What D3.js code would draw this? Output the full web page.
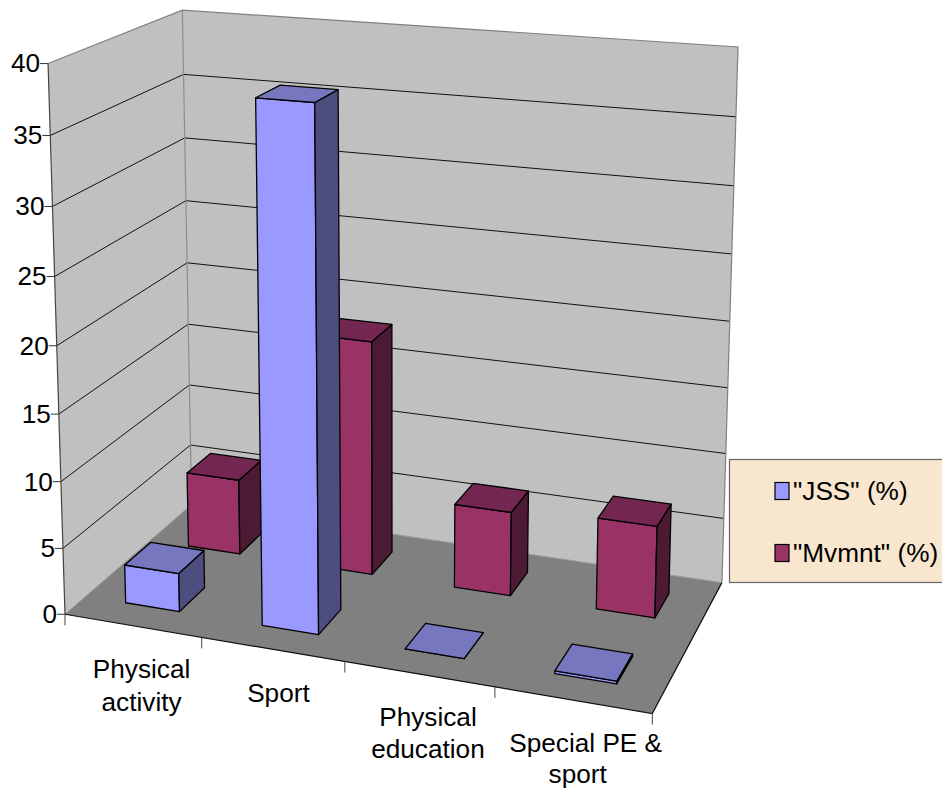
<!DOCTYPE html>
<html>
<head>
<meta charset="utf-8">
<script src="https://cdn.jsdelivr.net/npm/d3@7"></script>
<style>
  html, body { margin: 0; padding: 0; background: #fff; overflow: hidden; }
  text { font-family: "Liberation Sans", Arial, sans-serif; fill: #000; }
</style>
</head>
<body>
<svg id="chart" width="942" height="791"></svg>
<script>
// Percentages by category
const categories = ["Physical activity", "Sport", "Physical education", "Special PE & sport"];
const seriesNames = ["\"JSS\" (%)", "\"Mvmnt\" (%)"];
const jssValues = [2.9, 38, 0, 0.2];
const mvmntValues = [5.9, 18, 6.4, 6.9];
const yTicks = [0, 5, 10, 15, 20, 25, 30, 35, 40];
const categoryLabelLines = [["Physical", "activity"], ["Sport"], ["Physical", "education"], ["Special PE &", "sport"]];

const FONT_SIZE = 26.2;
const wallFill = "#c0c0c0", floorFill = "#808080";
const frontFill = ["#9999ff", "#993366"];
const topFill = ["#7777c0", "#732650"];
const sideFill = ["#4d4d80", "#4d1a33"];

// Scene axes, each normalised to 0..1
const xBand = d3.scaleBand().domain(categories).range([0, 1]).paddingInner(0.6).paddingOuter(0.3);
const depthBand = d3.scaleBand().domain(seriesNames).range([0, 1]).paddingInner(0.6).paddingOuter(0.3);
const height = d3.scaleLinear().domain([0, 40]).range([0, 1]);

// Camera calibration: box positions (across, depth, up) paired with screen anchors.
const anchors = [
  [0, 0, 0, 65.5, 614], [0, 0, 1, 47.5, 64], [0, 0, 0.5, 56.5, 345],
  [1, 0, 0, 652, 714], [0.25, 0, 0, 202, 637], [0.5, 0, 0, 345, 662], [0.75, 0, 0, 495, 687],
  [0, 1, 0, 191, 505], [0, 1, 1, 183, 10], [0, 1, 0.5, 187, 263],
  [1, 1, 0, 722, 582], [1, 1, 1, 738, 47]
];

function solveLinear(A, b) {
  const n = b.length, M = A.map((row, i) => [...row, b[i]]);
  for (let c = 0; c < n; c++) {
    let p = c;
    for (let r = c + 1; r < n; r++) if (Math.abs(M[r][c]) > Math.abs(M[p][c])) p = r;
    [M[c], M[p]] = [M[p], M[c]];
    for (let r = 0; r < n; r++) {
      if (r === c) continue;
      const f = M[r][c] / M[c][c];
      for (let k = c; k <= n; k++) M[r][k] -= f * M[c][k];
    }
  }
  return M.map((row, i) => row[n] / row[i]);
}

// Least-squares fit of the 3x4 projection matrix
function fitCamera(points) {
  const rows = [], rhs = [];
  points.forEach(([u, v, w, sx, sy]) => {
    const X = sx / 1000, Y = sy / 1000;
    rows.push([u, v, w, 1, 0, 0, 0, 0, -X * u, -X * v, -X * w]); rhs.push(X);
    rows.push([0, 0, 0, 0, u, v, w, 1, -Y * u, -Y * v, -Y * w]); rhs.push(Y);
  });
  const n = 11;
  const AtA = d3.range(n).map(i => d3.range(n).map(j => d3.sum(rows, r => r[i] * r[j])));
  const Atb = d3.range(n).map(i => d3.sum(rows, (r, k) => r[i] * rhs[k]));
  return solveLinear(AtA, Atb);
}

const cam = fitCamera(anchors);
function project(u, v, w) {
  const d = cam[8] * u + cam[9] * v + cam[10] * w + 1;
  return [
    1000 * (cam[0] * u + cam[1] * v + cam[2] * w + cam[3]) / d,
    1000 * (cam[4] * u + cam[5] * v + cam[6] * w + cam[7]) / d
  ];
}

const svg = d3.select("#chart");
const polyline = d3.line();
const closed = pts => polyline(pts) + "Z";

// Floor and walls
const scene = svg.append("g");
const box = [[0, 0], [1, 0], [1, 1], [0, 1]];
scene.append("path")
  .attr("d", closed([project(0, 0, 0), project(0, 0, 1), project(0, 1, 1), project(0, 1, 0)]))
  .attr("fill", wallFill);
scene.append("path")
  .attr("d", closed([project(0, 1, 0), project(0, 1, 1), project(1, 1, 1), project(1, 1, 0)]))
  .attr("fill", wallFill);
scene.append("path")
  .attr("d", closed(box.map(([u, v]) => project(u, v, 0))))
  .attr("fill", floorFill);

// Gridlines run across the side wall and the back wall
scene.selectAll("path.grid").data(yTicks.filter(t => t > 0 && t < 40)).join("path")
  .attr("class", "grid")
  .attr("fill", "none").attr("stroke", "#111").attr("stroke-width", 1)
  .attr("d", t => polyline([project(0, 0, height(t)), project(0, 1, height(t)), project(1, 1, height(t))]));

// Wall outlines
const edge = (pts, color, w) => scene.append("path").attr("fill", "none")
  .attr("stroke", color).attr("stroke-width", w).attr("d", polyline(pts));
edge([project(0, 0, 1), project(0, 1, 1), project(1, 1, 1), project(1, 1, 0)], "#808080", 1.2);
edge([project(0, 1, 0), project(0, 1, 1)], "#8c8c8c", 1.2);
edge([project(0, 0, 0), project(0, 1, 0), project(1, 1, 0)], "#9a9a9a", 1);
edge([project(0, 0, 0), project(0, 0, 1)], "#444", 1.2);
edge([project(0, 0, 0), project(1, 0, 0), project(1, 1, 0)], "#111", 1.2);

// Value axis ticks and labels
const yAxis = svg.append("g").selectAll("g").data(yTicks).join("g")
  .attr("transform", t => `translate(${project(0, 0, height(t))})`);
yAxis.append("line").attr("x1", -8).attr("x2", 0).attr("stroke", "#333").attr("stroke-width", 1);
yAxis.append("text").attr("x", -8).attr("dy", "0.34em").attr("text-anchor", "end")
  .attr("font-size", FONT_SIZE).text(t => t);

// Category ticks
svg.append("g").selectAll("line").data(d3.range(categories.length + 1)).join("line")
  .attr("stroke", "#444").attr("stroke-width", 1)
  .attr("x1", i => project(i / categories.length, 0, 0)[0])
  .attr("x2", i => project(i / categories.length, 0, 0)[0])
  .attr("y1", i => project(i / categories.length, 0, 0)[1])
  .attr("y2", i => project(i / categories.length, 0, 0)[1] + 11);

// Bars: the rear series first, then the front one
function drawBar(parent, cat, seriesIndex, value) {
  const name = seriesNames[seriesIndex];
  const u0 = xBand(cat), u1 = u0 + xBand.bandwidth();
  const v0 = depthBand(name), v1 = v0 + depthBand.bandwidth();
  const w = height(value);
  const g = parent.append("g").attr("stroke", "#000").attr("stroke-width", 1.3).attr("stroke-linejoin", "round");
  g.append("path").attr("fill", frontFill[seriesIndex])
    .attr("d", closed([project(u0, v0, 0), project(u1, v0, 0), project(u1, v0, w), project(u0, v0, w)]));
  g.append("path").attr("fill", sideFill[seriesIndex])
    .attr("d", closed([project(u1, v0, 0), project(u1, v1, 0), project(u1, v1, w), project(u1, v0, w)]));
  g.append("path").attr("fill", topFill[seriesIndex])
    .attr("d", closed([project(u0, v0, w), project(u1, v0, w), project(u1, v1, w), project(u0, v1, w)]));
}
const bars = svg.append("g");
[[1, mvmntValues], [0, jssValues]].forEach(([s, values]) => {
  categories.forEach((c, i) => drawBar(bars, c, s, values[i]));
});

// Category labels, placed under the midpoint of each span
const labelShift = [[9, 52], [6, 53], [9, 52], [13, 52]];
const lineGap = [33, 33, 32, 31];
categories.forEach((c, i) => {
  const [ax, ay] = project((i + 0.5) / categories.length, 0, 0);
  const lines = categoryLabelLines[i];
  lines.forEach((line, k) => {
    svg.append("text").attr("text-anchor", "middle").attr("font-size", FONT_SIZE)
      .attr("x", ax + labelShift[i][0] - (i === 3 && k === 1 ? 8 : 0))
      .attr("y", ay + labelShift[i][1] + k * lineGap[i])
      .text(line);
  });
});

// Legend
const legend = svg.append("g");
legend.append("rect").attr("x", 729.5).attr("y", 459.5).attr("width", 220).attr("height", 123)
  .attr("fill", "#f8e6ce").attr("stroke", "#666").attr("stroke-width", 1.2);
const legendY = d3.scalePoint().domain(seriesNames).range([490.5, 552.5]);
const legendRows = legend.selectAll("g").data(seriesNames).join("g")
  .attr("transform", d => `translate(0,${legendY(d)})`);
legendRows.append("rect").attr("x", 775).attr("y", -8).attr("width", 14).attr("height", 17)
  .attr("fill", (d, i) => frontFill[i]).attr("stroke", "#000").attr("stroke-width", 1.2);
legendRows.append("text").attr("x", 793).attr("y", 9.5).attr("font-size", FONT_SIZE).text(d => d);
</script>
</body>
</html>
